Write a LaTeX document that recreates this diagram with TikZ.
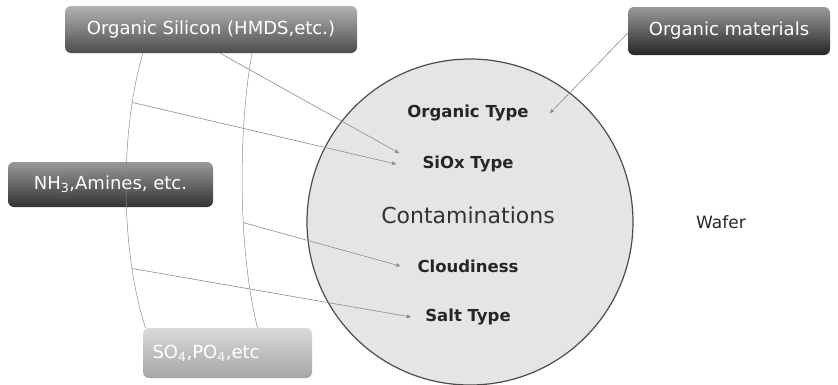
\documentclass[tikz,border=0pt]{standalone}
\usepackage{fontspec}
\setmainfont{DejaVu Sans}
\usetikzlibrary{arrows}
\usetikzlibrary{positioning}

\begin{document}
\begin{tikzpicture}[x=1pt,y=-1pt,>=stealth',node distance=51pt,
	grey box/.style={rounded corners=6pt,text=white,inner sep=0pt,
		font=\fontsize{18}{20}\selectfont},
	type node/.style={font=\bfseries\fontsize{16.5}{18}\selectfont,text=black!85},
	link/.style={draw=black!45,line width=0.6pt}]
	
	\useasboundingbox (0,0) rectangle (838,384);
	
	% wafer and what sits on it
	\node[circle,draw=black!70,line width=1.2pt,fill=black!10,
		minimum size=326pt] (wafer) at (470,222) {};
	\node[type node] (org) at (468,113) {Organic Type};
	\node[type node] (siox) [below of=org] {SiOx Type};
	\node[font=\fontsize{22}{24}\selectfont,text=black!80] (cont) [below of=siox] {Contaminations};
	\node[type node] (cloud) [below of=cont] {Cloudiness};
	\node[type node] (salt) [below of=cloud] {Salt Type};
	\node[font=\fontsize{17}{19}\selectfont,text=black!85] (waf) at (721,222) {Wafer};
	
	% sources
	\node[grey box,top color=black!30,bottom color=black!70,
		minimum width=292pt,minimum height=47pt] (osi) at (211,29.5) {Organic Silicon (HMDS,etc.)};
	\node[grey box,top color=black!40,bottom color=black!85,
		minimum width=202pt,minimum height=48pt] (om) at (729,31) {Organic materials};
	\node[grey box,top color=black!40,bottom color=black!80,
		minimum width=205pt,minimum height=45pt] (nh) at (110.5,184.5) {NH\textsubscript{3},Amines, etc.};
	\node[grey box,top color=black!15,bottom color=black!35,text width=150pt,align=left,
		minimum width=169pt,minimum height=50pt] (sox) at (227.5,353) {SO\textsubscript{4},PO\textsubscript{4},etc};
	
	% the two bows
	\draw[link,line width=0.5pt] ([xshift=-68pt]osi.south) .. controls (120,130) and (120,250) .. ([xshift=-82pt]sox.north)
		coordinate[pos=0.195] (l1) coordinate[pos=0.77] (l2);
	\draw[link,line width=0.5pt] ([xshift=41pt]osi.south) .. controls (238,130) and (238,250) .. ([xshift=30pt]sox.north)
		coordinate[pos=0.61] (r1);
	
	% arrows
	\draw[link,->] ([xshift=9pt]osi.south) -- ([xshift=-20pt,yshift=11pt]siox.west);
	\draw[link,->] (l1) -- ([xshift=-23pt]siox.west);
	\draw[link,->] (r1) -- ([xshift=-14pt]cloud.west);
	\draw[link,->] (l2) -- ([xshift=-11pt]salt.west);
	\draw[link,->] ([yshift=-2pt]om.west) -- ([xshift=18pt]org.east);
\end{tikzpicture}
\end{document}
